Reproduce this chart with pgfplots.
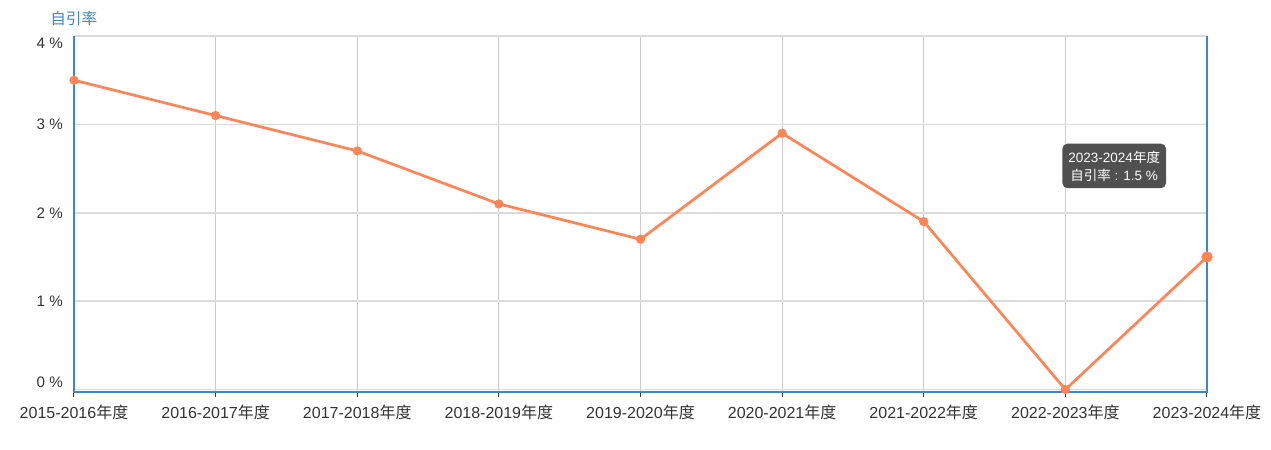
\documentclass[border=0pt]{standalone}
\usepackage{fontspec}
\setmainfont{Liberation Sans}
\newfontfamily\cjk{Noto Sans CJK SC}
\usepackage{pgfplots}
\pgfplotsset{compat=1.18}

\definecolor{axblue}{RGB}{62,135,196}
\definecolor{lineorange}{RGB}{255,133,86}
\definecolor{labgray}{RGB}{51,51,51}
\definecolor{tipgray}{RGB}{80,80,80}

\begin{document}
\begin{tikzpicture}
  % page = 1271 x 450 px, 1 px = 0.5pt
  \path[use as bounding box] (0pt,0pt) rectangle (635.5pt,225pt);
  \begin{axis}[
    at={(37pt,29pt)}, anchor=south west,
    scale only axis,
    width=566.5pt, height=178pt,
    xmin=0, xmax=8,
    ymin=-0.028, ymax=4,
    xtick={0,...,8},
    xticklabels={
      {2015-2016{\cjk 年度}},{2016-2017{\cjk 年度}},{2017-2018{\cjk 年度}},
      {2018-2019{\cjk 年度}},{2019-2020{\cjk 年度}},{2020-2021{\cjk 年度}},
      {2021-2022{\cjk 年度}},{2022-2023{\cjk 年度}},{2023-2024{\cjk 年度}}},
    ytick={0,1,2,3,4},
    % end labels pulled inward, as in the original
    yticklabels={\raisebox{3.5pt}[\height][\depth]{0 \%},1 \%,2 \%,3 \%,
      \raisebox{-3.5pt}[\height][\depth]{4 \%}},
    ticklabel style={text=labgray},
    xticklabel style={font=\fontsize{8pt}{9pt}\selectfont, yshift=-0.5pt},
    yticklabel style={font=\fontsize{7.6pt}{9pt}\selectfont, xshift=0.5pt},
    xtick pos=bottom, tick align=outside,
    major tick length=2.5pt,
    xtick style={draw=labgray, line width=0.5pt},
    ytick style={draw=none},
    grid=major,
    x grid style={draw=black!20, line width=0.5pt},
    y grid style={draw=black!14, line width=0.8pt},
    axis line style={draw=none},
    clip=false,
  ]
    \addplot[lineorange, line width=1.35pt, mark=*,
      mark size=1.6pt, mark options={fill=lineorange, draw=lineorange}]
      coordinates {
      (0,3.5) (1,3.1) (2,2.7) (3,2.1) (4,1.7)
      (5,2.9) (6,1.9) (7,0.0) (8,1.5)
    };
    \addplot[only marks, mark=*, mark size=2.6pt, lineorange]
      coordinates {(8,1.5)};
    \draw[axblue, line width=1.25pt]
      (rel axis cs:0,1) -- (rel axis cs:0,0) -- (rel axis cs:1,0) -- (rel axis cs:1,1);
    \node[fill=tipgray, rounded corners=2.5pt, text=white, align=center,
      inner xsep=3pt, inner ysep=3.5pt,
      font=\fontsize{6.75pt}{9pt}\selectfont]
      at (axis cs:7.345,2.53) {2023-2024{\cjk 年度}\\{\cjk 自引率} : 1.5 \%};
    \node[anchor=south west, text=axblue, inner sep=0pt,
      font=\cjk\fontsize{7.8pt}{9pt}\selectfont]
      at (rel axis cs:0,1) [xshift=-12pt, yshift=5pt] {自引率};
  \end{axis}
\end{tikzpicture}
\end{document}
